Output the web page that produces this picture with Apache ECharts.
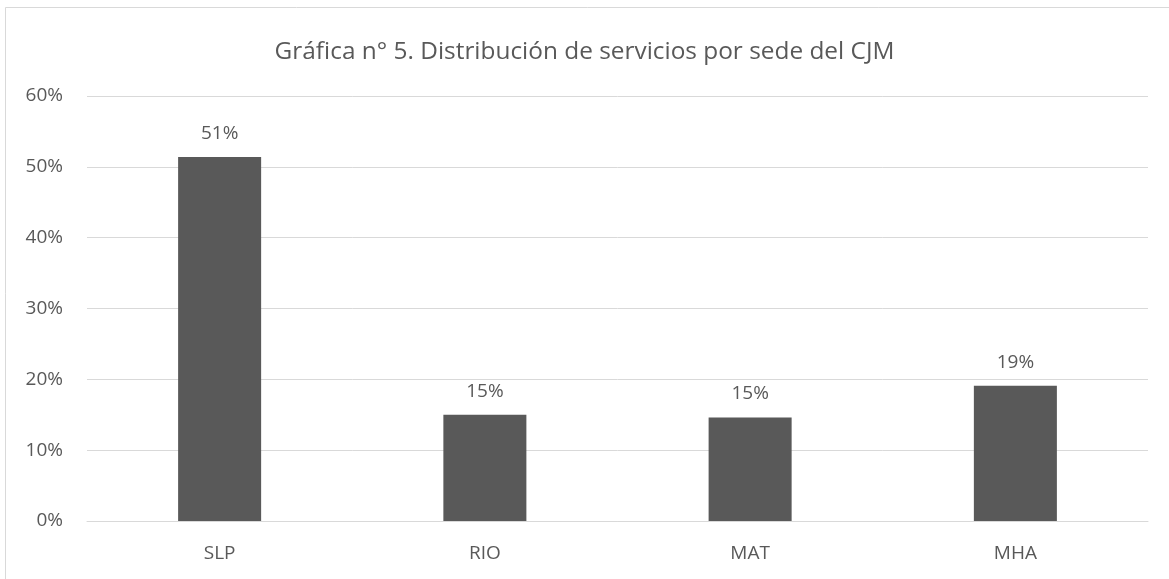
<!DOCTYPE html>
<html>
<head>
<meta charset="utf-8">
<script src="https://cdn.jsdelivr.net/npm/echarts@6/dist/echarts.min.js"></script>
<style>
  html, body { margin: 0; padding: 0; background: #fff; }
  #chart { width: 1169px; height: 579px; }
</style>
</head>
<body>
<div id="chart"></div>
<script>
const sedes = ['SLP', 'RIO', 'MAT', 'MHA'];
const porcentajes = [51.4, 15.0, 14.6, 19.1];
const etiquetas = ['51%', '15%', '15%', '19%'];

const textColor = '#595959';
const lineColor = '#d9d9d9';
const fontFamily = '"Open Sans", "Noto Sans", sans-serif';

const chart = echarts.init(document.getElementById('chart'));
chart.setOption({
  backgroundColor: '#fff',
  animation: false,
  title: {
    text: 'Gráfica n° 5. Distribución de servicios por sede del CJM',
    left: 'center',
    top: 35,
    textStyle: {
      color: textColor,
      fontSize: 24.4,
      fontWeight: 'normal',
      fontFamily: fontFamily
    }
  },
  graphic: [{
    type: 'polyline',
    shape: { points: [[5.5, 579], [5.5, 7.5], [1169, 7.5]] },
    style: { stroke: lineColor, lineWidth: 1, fill: null }
  }],
  grid: {
    left: 87,
    right: 21,
    top: 96,
    bottom: 58
  },
  xAxis: {
    type: 'category',
    data: sedes,
    axisLine: { lineStyle: { color: lineColor, width: 1 } },
    axisTick: { show: false },
    axisLabel: {
      color: textColor,
      fontSize: 19,
      fontFamily: fontFamily,
      margin: 23
    }
  },
  yAxis: {
    type: 'value',
    min: 0,
    max: 60,
    interval: 10,
    axisLine: { show: false },
    axisTick: { show: false },
    splitLine: { lineStyle: { color: lineColor, width: 1 } },
    axisLabel: {
      formatter: '{value}%',
      color: textColor,
      fontSize: 19,
      fontFamily: fontFamily,
      margin: 24
    }
  },
  series: [{
    type: 'bar',
    data: porcentajes,
    barWidth: '31.3%',
    itemStyle: { color: '#595959' },
    label: {
      show: true,
      position: 'top',
      distance: 14,
      color: textColor,
      fontSize: 19,
      fontFamily: fontFamily,
      formatter: (p) => etiquetas[p.dataIndex]
    }
  }]
});
</script>
</body>
</html>
